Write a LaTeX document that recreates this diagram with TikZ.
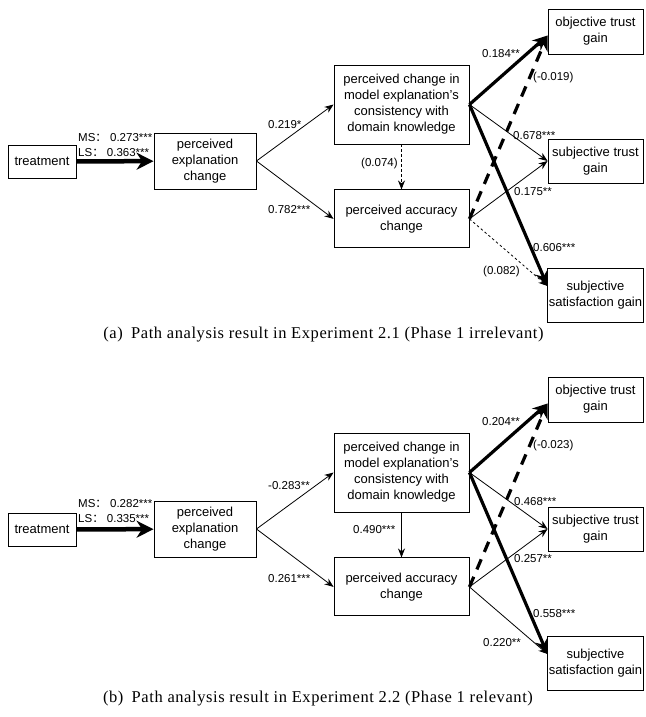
\documentclass[tikz,border=0pt]{standalone}
\usepackage{fontspec}
\setmainfont{Liberation Serif}
\setsansfont{Liberation Sans}
\newfontfamily\cjk{Noto Sans CJK SC}
\usetikzlibrary{positioning, arrows.meta}
\tikzset{
  varbox/.style={
    draw, line width=0.9pt, align=center, inner sep=1pt,
    font=\sffamily\fontsize{13}{16}\selectfont
  },
  midbox/.style={
    varbox, minimum width=135pt
  },
  outbox/.style={
    varbox, minimum width=95pt
  },
  coef/.style={
    anchor=base west, inner sep=0pt,
    font=\sffamily\fontsize{11.5}{13}\selectfont
  },
  caption/.style={
    anchor=base, inner sep=0pt,
    font=\rmfamily\fontsize{16.5}{19}\selectfont\addfontfeature{LetterSpace=3.5}
  },
  thinpath/.style={
    -{Stealth[length=9pt, width=7pt]}, line width=0.8pt
  },
  thickpath/.style={
    -{Stealth[length=15pt, width=13pt]}, line width=3.2pt
  },
  bigpath/.style={
    -{Stealth[length=17pt, width=17pt]}, line width=4.5pt
  },
  nullpath/.style={
    thinpath, dash pattern=on 3pt off 2pt
  },
  nullthick/.style={
    thickpath, dash pattern=on 11pt off 8pt
  },
  nulldotted/.style={
    thinpath, dash pattern=on 2.5pt off 2.5pt
  },
}

\begin{document}
\begin{tikzpicture}[x=1pt, y=-1pt]
  \useasboundingbox (0,0) rectangle (645,717);

  % (a) Experiment 2.1
  \node[varbox, minimum width=68pt, minimum height=33pt] (treatA) at (42,161.5) {treatment};
  \node[varbox, minimum width=102pt, minimum height=56pt] (explA) at (205,161)
        {perceived\\explanation\\change};
  \node[midbox, minimum height=79pt] (consA) at (401.5,104.5)
        {perceived change in\\model explanation's\\consistency with\\domain knowledge};
  \node[midbox, minimum height=58pt, below=45pt of consA] (accA) {perceived accuracy\\change};
  \node[outbox, minimum height=45pt] (objA) at (595.5,31.5) {objective trust\\gain};
  \node[outbox, minimum height=44pt] (subjA) at (595.5,161) {subjective trust\\gain};
  \node[outbox, minimum height=54pt] (satA) at (595.5,295) {subjective\\satisfaction gain};
  \coordinate (objinA) at ([yshift=-4pt]objA.west);
  \coordinate (satinA) at ([yshift=9pt]satA.west);

  % Paths
  \draw[bigpath] (treatA) -- (explA);
  \draw[thinpath] (explA.east) -- (consA.west);
  \draw[thinpath] (explA.east) -- (accA.west);
  \draw[nullpath] (consA) -- (accA);
  \draw[nullthick] (accA.east) -- (objinA);
  \draw[thickpath] (consA.east) -- (objinA);
  \draw[thinpath] (consA.east) -- (subjA.west);
  \draw[thickpath] (consA.east) -- (satinA);
  \draw[thinpath] (accA.east) -- (subjA.west);
  \draw[nulldotted] (accA.east) -- (satinA);

  % Coefficients
  \node[coef] (msA) at (78,141) {MS{\cjk ：} 0.273***};
  \node[coef] (lsA) at (78,156) {LS{\cjk ：} 0.363***};
  \node[coef] (c1A) at (268,128) {0.219*};
  \node[coef] (c2A) at (268,213) {0.782***};
  \node[coef] (c3A) at (361,166) {(0.074)};
  \node[coef] (c4A) at (482,57) {0.184**};
  \node[coef] (c5A) at (533,81) {(-0.019)};
  \node[coef] (c6A) at (513,139) {0.678***};
  \node[coef] (c7A) at (514,195) {0.175**};
  \node[coef] (c8A) at (533,251) {0.606***};
  \node[coef] (c9A) at (483,274) {(0.082)};

  % (b) Experiment 2.2
  \begin{scope}[yshift=-368pt]
    \node[varbox, minimum width=68pt, minimum height=33pt] (treatB) at (42,161.5) {treatment};
    \node[varbox, minimum width=102pt, minimum height=56pt] (explB) at (205,161)
          {perceived\\explanation\\change};
    \node[midbox, minimum height=79pt] (consB) at (401.5,104.5)
          {perceived change in\\model explanation's\\consistency with\\domain knowledge};
    \node[midbox, minimum height=58pt, below=45pt of consB] (accB) {perceived accuracy\\change};
    \node[outbox, minimum height=45pt] (objB) at (595.5,31.5) {objective trust\\gain};
    \node[outbox, minimum height=44pt] (subjB) at (595.5,161) {subjective trust\\gain};
    \node[outbox, minimum height=54pt] (satB) at (595.5,295) {subjective\\satisfaction gain};
    \coordinate (objinB) at ([yshift=-4pt]objB.west);
    \coordinate (satinB) at ([yshift=9pt]satB.west);

    % Paths
    \draw[bigpath] (treatB) -- (explB);
    \draw[thinpath] (explB.east) -- (consB.west);
    \draw[thinpath] (explB.east) -- (accB.west);
    \draw[thinpath] (consB) -- (accB);
    \draw[nullthick] (accB.east) -- (objinB);
    \draw[thickpath] (consB.east) -- (objinB);
    \draw[thinpath] (consB.east) -- (subjB.west);
    \draw[thickpath] (consB.east) -- (satinB);
    \draw[thinpath] (accB.east) -- (subjB.west);
    \draw[thinpath] (accB.east) -- (satinB);

    % Coefficients
    \node[coef] (msB) at (78,139) {MS{\cjk ：} 0.282***};
    \node[coef] (lsB) at (78,154) {LS{\cjk ：} 0.335***};
    \node[coef] (c1B) at (268,121) {-0.283**};
    \node[coef] (c2B) at (268,214) {0.261***};
    \node[coef] (c3B) at (353,165) {0.490***};
    \node[coef] (c4B) at (482,57) {0.204**};
    \node[coef] (c5B) at (533,80) {(-0.023)};
    \node[coef] (c6B) at (514,137) {0.468***};
    \node[coef] (c7B) at (514,194) {0.257**};
    \node[coef] (c8B) at (533,249) {0.558***};
    \node[coef] (c9B) at (483,278) {0.220**};
  \end{scope}

  % Captions
  \node[caption] (capA) at (323.5,338) {(a)\enskip Path analysis result in Experiment 2.1 (Phase 1 irrelevant)};
  \node[caption] (capB) at (318,702) {(b)\enskip Path analysis result in Experiment 2.2 (Phase 1 relevant)};
\end{tikzpicture}
\end{document}
